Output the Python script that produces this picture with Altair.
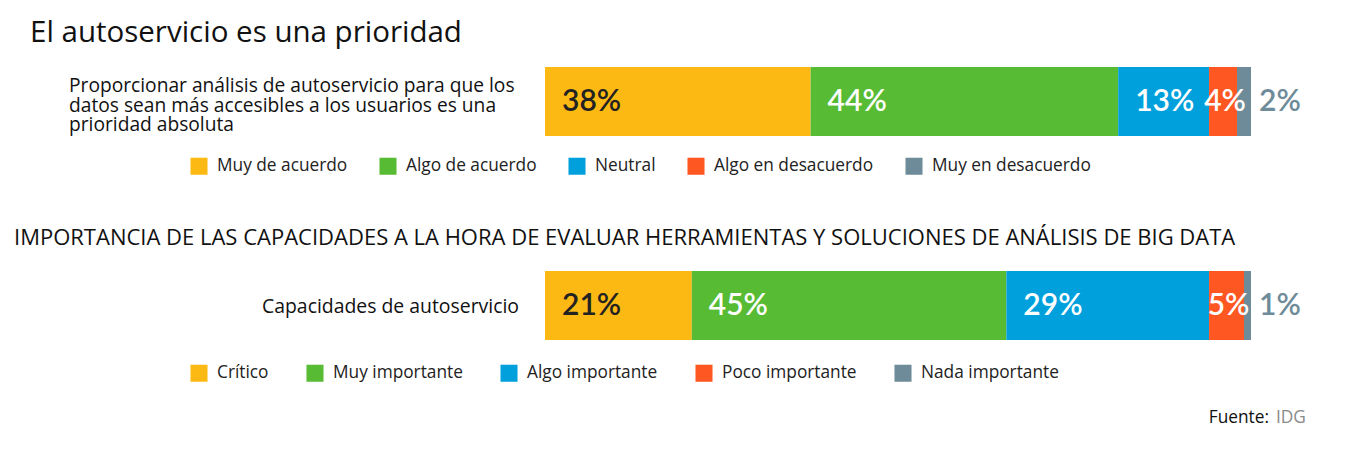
import altair as alt
import pandas as pd

# ---- data ----
title1 = "El autoservicio es una prioridad"
q1_label = ["Proporcionar análisis de autoservicio para que los",
            "datos sean más accesibles a los usuarios es una",
            "prioridad absoluta"]
q1_cats = ["Muy de acuerdo", "Algo de acuerdo", "Neutral", "Algo en desacuerdo", "Muy en desacuerdo"]
q1_vals = [38, 44, 13, 4, 2]

title2 = "IMPORTANCIA DE LAS CAPACIDADES A LA HORA DE EVALUAR HERRAMIENTAS Y SOLUCIONES DE ANÁLISIS DE BIG DATA"
q2_label = "Capacidades de autoservicio"
q2_cats = ["Crítico", "Muy importante", "Algo importante", "Poco importante", "Nada importante"]
q2_vals = [21, 45, 29, 5, 1]

source_label = "Fuente:"
source_name = "IDG"

palette = ["#FDB913", "#57BB33", "#00A0DD", "#FF5722", "#6E8B99"]
FONT = "Open Sans"
NUMFONT = "Lato"


def make_df(cats, vals):
    df = pd.DataFrame({"cat": cats, "value": vals})
    df["end"] = df["value"].cumsum()
    df["start"] = df["end"] - df["value"]
    df["mid"] = (df["start"] + df["end"]) / 2
    df["idx"] = range(len(df))
    df["lbl"] = df["value"].astype(str) + "%"
    return df


df1 = make_df(q1_cats, q1_vals)
df2 = make_df(q2_cats, q2_vals)
total = max(sum(q1_vals), sum(q2_vals))
xscale = alt.Scale(domain=[0, total], range=[545, 1251])


def bar_layers(df, cats, ytop, ybot, lx, ly, colpad):
    ymid = (ytop + ybot) / 2
    base = alt.Chart(df)
    bars = base.mark_bar(size=0).encode(
        x=alt.X("start:Q", scale=xscale, axis=None),
        x2="end:Q",
        y=alt.value(ytop), y2=alt.value(ybot),
        color=alt.Color("cat:N", sort=cats,
                        scale=alt.Scale(domain=cats, range=palette),
                        legend=alt.Legend(title=None, orient="none", legendX=lx, legendY=ly,
                                          direction="horizontal", symbolType="square",
                                          symbolSize=290, symbolStrokeWidth=0, symbolOpacity=1,
                                          labelFont=FONT, labelFontSize=17.3, labelColor="#222222",
                                          labelOffset=9, columnPadding=colpad, labelLimit=400)),
    )
    common = dict(baseline="middle", font=NUMFONT, fontSize=30, fontWeight=600)
    lab_dark = base.transform_filter("datum.idx == 0").mark_text(
        align="left", dx=17, color="#222222", **common
    ).encode(x=alt.X("start:Q", scale=xscale, axis=None), y=alt.value(ymid), text="lbl:N")
    lab_white = base.transform_filter("datum.idx > 0 && datum.idx < 3").mark_text(
        align="left", dx=17, color="#FFFFFF", **common
    ).encode(x=alt.X("start:Q", scale=xscale, axis=None), y=alt.value(ymid), text="lbl:N")
    lab_small = base.transform_filter("datum.idx == 3").mark_text(
        align="center", dx=2, color="#FFFFFF", **common
    ).encode(x=alt.X("mid:Q", scale=xscale, axis=None), y=alt.value(ymid), text="lbl:N")
    lab_out = base.transform_filter("datum.idx == 4").mark_text(
        align="left", dx=8, color="#6E8B99", **common
    ).encode(x=alt.X("end:Q", scale=xscale, axis=None), y=alt.value(ymid), text="lbl:N")
    return [bars, lab_dark, lab_white, lab_small, lab_out]


one = alt.Data(values=[{}])


def txt(s, x, y, size, align="left", color="#111111", weight="normal"):
    return alt.Chart(one).mark_text(align=align, baseline="middle", font=FONT, fontSize=size,
                                    color=color, fontWeight=weight).encode(
        x=alt.value(x), y=alt.value(y), text=alt.value(s))


t1 = txt(title1, 30, 33, 29.5)
t2 = txt(title2, 14, 238, 22)
q1 = alt.Chart(one).mark_text(align="left", baseline="middle", font=FONT, fontSize=19.2,
                              color="#111111", lineHeight=19.5).encode(
    x=alt.value(69), y=alt.value(86), text=alt.value(q1_label))
q2 = txt(q2_label, 519, 307, 19.4, align="right")
s1 = txt(source_label, 1269, 418, 17.3, align="right", color="#111111")
s2 = txt(source_name, 1276, 418, 17.3, align="left", color="#8A8A8A")

layers = [t1, t2, q1, q2, s1, s2] + bar_layers(df1, q1_cats, 67, 136, 190, 157, 31) \
    + bar_layers(df2, q2_cats, 271, 340, 190, 364, 37)

chart = alt.layer(*layers).resolve_scale(color="independent").properties(
    width=1364, height=470, autosize=alt.AutoSizeParams(type="none"), padding=0,
    background="#FFFFFF",
).configure_view(strokeWidth=0)

chart.save("out.html", embed_options={"renderer": "svg", "actions": False})
